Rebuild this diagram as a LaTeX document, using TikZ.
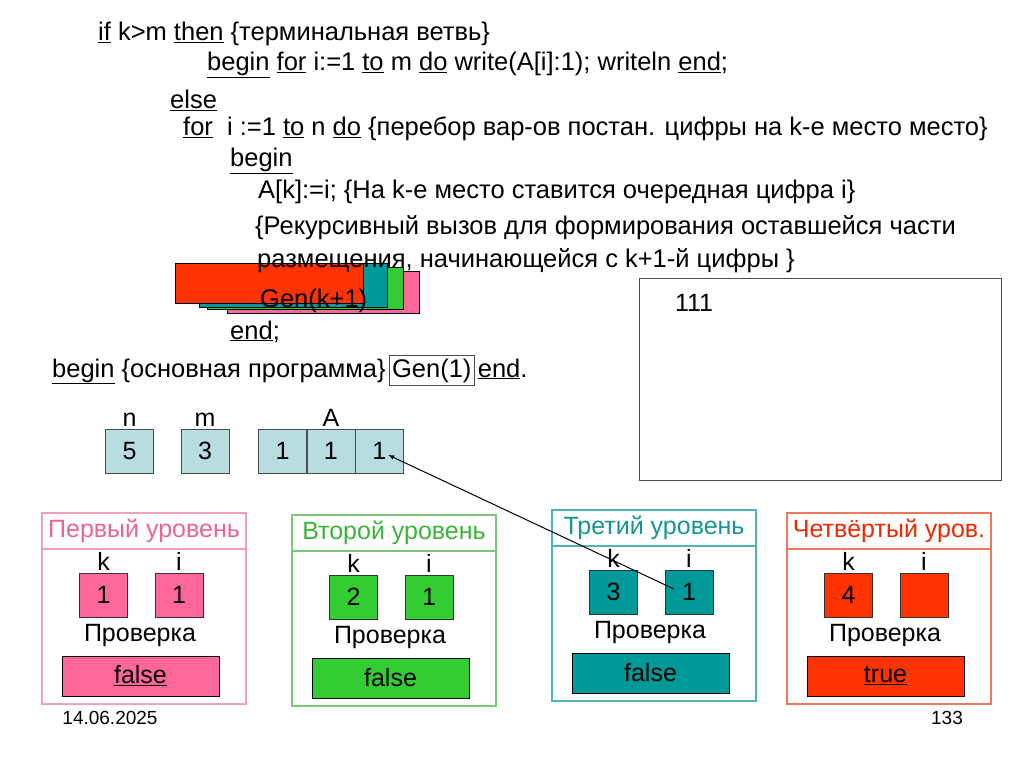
\documentclass[tikz,border=0pt]{standalone}
\usepackage{fontspec}
\setmainfont{Liberation Sans}
\usetikzlibrary{positioning,arrows}

\definecolor{cellblue}{RGB}{184,221,224}
\definecolor{lvpink}{RGB}{255,102,153}
\definecolor{lvgreen}{RGB}{51,204,51}
\definecolor{lvteal}{RGB}{0,153,153}
\definecolor{lvred}{RGB}{255,51,0}
\definecolor{frpink}{RGB}{240,160,190}
\definecolor{frgreen}{RGB}{120,200,120}
\definecolor{frteal}{RGB}{80,180,180}
\definecolor{frred}{RGB}{240,120,90}
\definecolor{ttpink}{RGB}{235,100,150}
\definecolor{ttgreen}{RGB}{60,180,60}
\definecolor{ttteal}{RGB}{20,150,150}
\definecolor{ttred}{RGB}{240,40,0}

\newcommand{\kw}[1]{\underline{#1}}
\newcommand{\codesize}{\fontsize{25.5}{30}\selectfont}
\newcommand{\lvsize}{\fontsize{25}{30}\selectfont}

\begin{document}
\begin{tikzpicture}[x=1pt,y=-1pt,
	code/.style={anchor=base west,inner sep=0pt,font=\codesize},
	cellbox/.style={draw=black!80,minimum width=48pt,minimum height=44pt,inner sep=0pt,font=\lvsize,
		label={[font=\lvsize,inner sep=0pt,label distance=2pt]above:#1}},
	varbox/.style={draw=black!70,fill=cellblue,minimum width=48pt,minimum height=44pt,inner sep=0pt,font=\lvsize},
	resbox/.style={draw=black,minimum width=157pt,minimum height=40pt,inner sep=0pt,font=\lvsize}]
\useasboundingbox[fill=white] (0,0) rectangle (1024,767);

% stacked calls behind Gen(k+1)
\draw[fill=lvpink] (227,271) rectangle (419,313);
\draw[fill=lvgreen] (207,267) rectangle (403,309);
\draw[fill=lvteal] (199,263) rectangle (387,307);
\draw[fill=lvred] (175,263) rectangle (363,303);

% program text
\node[code] (l1) at (98,41) {\kw{if} k>m \kw{then} \{терминальная ветвь\}};
\node[code] (l2) at (207,71) {\kw{begin} \kw{for} i:=1 \kw{to} m \kw{do} write(A[i]:1); writeln \kw{end};};
\node[code] (l3) at (170,109) {\kw{else}};
\node[code] (l4) at (183,136) {\kw{for}\ \ i :=1 \kw{to} n \kw{do} \{перебор вар-ов постан. цифры на k-е место место\}};
\node[code] (l5) at (230,167) {\kw{begin}};
\node[code] (l6) at (258,199) {A[k]:=i; \{На k-е место ставится очередная цифра i\}};
\node[code] (l7) at (255,235) {\{Рекурсивный вызов для формирования оставшейся части};
\node[code] (l8) at (257,267) {размещения, начинающейся с k+1-й цифры \}};
\node[code] (l9) at (260,307) {Gen(k+1)};
\node[code] (l10) at (230,339) {\kw{end};};
\node[code] (l11) at (52,377) {\kw{begin} \{основная программа\}};
\node[code,draw=black!70,inner sep=3pt,anchor=base west] (gen1) at ([xshift=3pt]l11.base east) {Gen(1)};
\node[code,anchor=base west] (l12) at ([xshift=3pt]gen1.base east) {\kw{end}.};

% output window
\draw[black!70,line width=1pt] (639,278) rectangle (1001,480);
\node[font=\lvsize] (res) at (694,303) {111};

% variables
\node[varbox,label={[font=\lvsize,inner sep=0pt,label distance=2pt]above:n}] (vn) at (129.5,451) {5};
\node[varbox,label={[font=\lvsize,inner sep=0pt,label distance=2pt]above:m}] (vm) at (205,451) {3};
\node[varbox] (a1) at (282.5,451) {1};
\node[varbox,right=0pt of a1,label={[font=\lvsize,inner sep=0pt,label distance=2pt]above:A}] (a2) {1};
\node[varbox,right=0pt of a2] (a3) {1};

% recursion levels
\foreach \x/\y/\fc/\lc/\tc/\title/\kv/\iv/\res [count=\n] in {
	42/513/lvpink/frpink/ttpink/Первый уровень/1/1/\kw{false},
	292/515/lvgreen/frgreen/ttgreen/Второй уровень/2/1/false,
	552/510/lvteal/frteal/ttteal/Третий уровень/3/1/false,
	787/513/lvred/frred/ttred/Четвёртый уров./4/ /\kw{true}}{
	\draw[\lc,line width=1.2pt] (\x,\y) rectangle ++(204,191);
	\draw[\lc,line width=1.2pt] (\x,\y+36) -- ++(204,0);
	\node[font=\lvsize,text=\tc] (t\n) at (\x+102,\y+18) {\title};
	\node[cellbox=k,fill=\fc] (k\n) at (\x+61.5,\y+82) {\kv};
	\node[cellbox=i,fill=\fc] (i\n) at (\x+137,\y+82) {\iv};
	\node[font=\lvsize] (p\n) at (\x+98,\y+122) {Проверка};
	\node[resbox,fill=\fc] (r\n) at (\x+98.5,\y+163) {\res};
}

\draw[-latex,line width=1pt] ([xshift=-15pt,yshift=3pt]i3.center) -- ([xshift=9pt,yshift=-4pt]a3.center);

% footer
\node[font=\fontsize{19}{22}\selectfont] (date) at (110,718) {14.06.2025};
\node[font=\fontsize{19}{22}\selectfont] (page) at (947,718) {133};
\end{tikzpicture}
\end{document}
